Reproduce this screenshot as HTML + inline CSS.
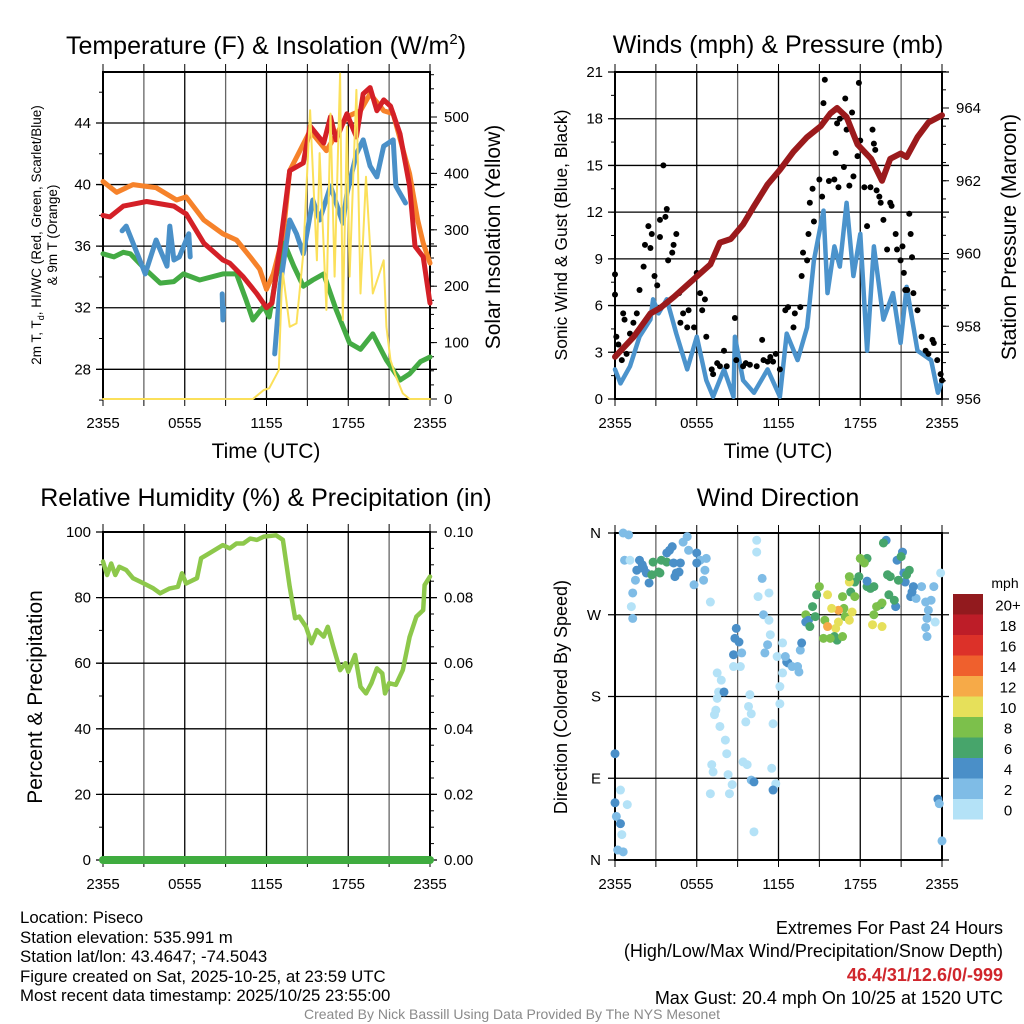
<!DOCTYPE html>
<html><head><meta charset="utf-8"><style>
html,body{margin:0;padding:0;background:#fff;}
svg{display:block;font-family:"Liberation Sans",sans-serif;}
</style></head><body>
<svg id="fig" width="1024" height="1024" viewBox="0 0 1024 1024">
<rect width="1024" height="1024" fill="#fff"/>
<g id="p1"></g>
<g id="p2"></g>
<g id="p3"></g>
<g id="p4"></g>
<g id="txt" font-size="16.8" fill="#000">
<text x="20" y="923">Location: Piseco</text>
<text x="20" y="943">Station elevation: 535.991 m</text>
<text x="20" y="962">Station lat/lon: 43.4647; -74.5043</text>
<text x="20" y="982">Figure created on Sat, 2025-10-25, at 23:59 UTC</text>
<text x="20" y="1001">Most recent data timestamp: 2025/10/25 23:55:00</text>
<text x="1003" y="934" text-anchor="end" font-size="18">Extremes For Past 24 Hours</text>
<text x="1003" y="957" text-anchor="end" font-size="18">(High/Low/Max Wind/Precipitation/Snow Depth)</text>
<text x="1003" y="981" text-anchor="end" font-size="18" font-weight="bold" fill="#d0262c">46.4/31/12.6/0/-999</text>
<text x="1003" y="1004" text-anchor="end" font-size="18">Max Gust: 20.4 mph On 10/25 at 1520 UTC</text>
<text x="512" y="1019" text-anchor="middle" font-size="14" fill="#8a8a8a">Created By Nick Bassill Using Data Provided By The NYS Mesonet</text>
</g>
</svg>
<script>
// ---------- Panel 1 data ----------
const redH=[0,0.5,1.5,3.2,5.2,5.9,6.1,7.4,8.8,9.3,10.3,11.3,12.0,12.4,13.0,13.7,14.7,15.2,16.2,16.7,17.1,17.9,18.6,19.1,19.6,20.1,20.6,21.1,21.8,22.5,22.9,23.5,24];
const redT=[38.0,37.9,38.6,38.9,38.6,38.2,38.1,36.2,35.1,34.9,34.0,32.9,32.0,32.3,36.0,40.9,41.4,43.8,42.7,44.4,42.9,44.6,43.1,45.9,46.3,44.8,45.5,45.1,43.3,39.9,36.0,35.3,32.3];
const orH=[0,1,2.2,3.9,5.4,6.1,7.4,8.8,9.8,10.8,11.5,12.0,12.5,13.2,13.7,15.2,16.4,17.9,18.9,19.6,20.6,21.3,22.5,23.1,23.5,24];
const orT=[40.2,39.5,40.0,39.8,39.0,39.2,37.7,36.8,36.4,35.3,34.5,33.2,34.2,36.6,40.9,43.5,42.2,44.4,44.8,45.9,44.8,44.6,40.7,37.7,36.2,34.9];
const grH=[0,0.8,1.5,2.0,3.1,4.2,5.2,5.9,7.1,8.8,9.8,10.5,11.0,11.8,12.2,12.7,13.3,14.0,14.7,15.4,16.2,17.1,18.1,18.9,19.8,20.8,21.8,22.5,23.3,24];
const grT=[35.5,35.3,35.6,35.5,34.5,33.6,33.7,34.2,33.8,34.2,34.2,32.5,31.2,32.1,31.4,34.0,36.2,34.7,33.4,33.8,34.2,31.9,29.7,29.3,30.3,28.6,27.3,27.7,28.5,28.8];
const blSeg1H=[1.4,1.7,2.7,3.1,3.9,4.7,4.9,5.2,5.6,6.3,6.4];
const blSeg1T=[37.0,37.3,35.1,34.2,36.4,34.7,37.3,35.1,35.3,36.8,35.3];
const blSeg2H=[8.75,8.8,8.85];
const blSeg2T=[32.9,31.2,32.0];
const blSeg3H=[12.6,13.0,13.7,14.2,14.7,15.4,15.9,16.7,17.6,17.9,18.6,19.1,19.6,20.1,20.6,21.3,21.5,22.2];
const blSeg3T=[29.0,33.4,37.7,36.8,35.5,39.0,37.7,39.9,37.5,39.4,42.0,42.9,41.2,40.5,42.5,42.9,39.9,38.8];
const solH=[0,11.0,11.8,12.2,12.9,13.1,13.2,13.7,14.2,14.7,15.2,15.7,15.9,16.4,16.7,17.0,17.4,17.6,17.9,18.1,18.6,18.9,19.3,19.8,20.6,20.8,21.1,21.5,22.0,22.5,24];
const solW=[0,0,16,19,51,187,223,128,134,258,512,246,436,158,506,217,577,140,483,217,548,187,394,187,246,128,69,40,10,0,0];
const tempTicks=[28,32,36,40,44];
const solTicks=[0,100,200,300,400,500];
const timeLabels=["2355","0555","1155","1755","2355"];
// ---------- Panel 2 data ----------
const presH=[0,1.35,2.6,3.3,4.3,5.5,7.0,7.7,8.5,9.4,10.2,11.2,12.1,13.1,14.1,15.1,15.8,16.3,17.0,17.8,18.8,19.2,19.6,20.2,20.96,21.4,22.2,23.0,24];
const presMb=[957.16,957.7,958.35,958.5,958.8,959.2,959.7,960.3,960.4,960.8,961.3,961.9,962.3,962.8,963.2,963.5,963.85,964.0,963.75,963.0,962.6,962.3,962.0,962.6,962.75,962.65,963.2,963.6,963.8];
const windH=[0,0.4,1.1,1.8,2.6,2.8,3.2,3.8,4.5,5.3,6.0,6.7,7.2,8.0,8.7,8.8,9.4,10.2,11.2,12.1,12.6,13.4,14.1,14.6,15.3,15.6,16.1,16.5,17.0,17.5,18.0,18.5,19.0,19.7,20.4,20.96,21.4,22.2,23.2,23.7,24];
const windMph=[1.9,1.0,2.1,4.0,5.1,6.4,5.5,6.4,4.2,1.9,4.0,1.2,0.15,1.9,0.15,4.0,1.2,0.4,1.9,0.15,4.2,2.5,4.6,8.9,12.1,6.8,9.8,8.5,12.6,7.9,10.6,3.1,9.8,5.1,6.8,3.6,7.2,3.1,2.5,0.4,1.2];
const gustH=[0,0,0.1,0.25,0.5,0.6,0.7,0.85,1.1,1.35,1.6,1.8,2.1,2.2,2.45,2.6,2.7,2.9,3.1,3.3,3.3,3.55,3.7,3.8,3.9,4.2,4.3,4.5,4.7,4.8,5.0,5.3,5.4,5.8,6.0,6.25,6.4,6.6,6.7,7.1,7.5,8.0,8.2,8.8,8.9,9.4,9.9,10.4,10.8,10.9,11.4,11.8,12.1,12.5,12.7,13.1,13.2,13.6,13.7,13.8,14.1,14.2,14.3,14.5,14.6,15.0,15.2,15.3,15.4,15.7,16.1,16.2,16.3,16.4,16.5,16.8,16.9,17.0,17.2,17.4,17.5,17.8,17.9,18.0,18.3,18.5,18.75,18.9,19.0,19.1,19.2,19.4,19.5,19.7,19.97,20.2,20.3,20.6,20.7,20.96,21.1,21.2,21.3,21.45,21.6,21.7,21.8,21.9,22.2,22.5,22.8,23.0,23.3,23.4,23.65,23.9,24.0,7.2,7.7,9.6,11.2,11.6];
const gustMph=[8.0,6.7,4.0,3.5,2.5,5.5,5.1,2.9,4.2,4.9,5.5,7.0,8.5,9.9,11.1,9.7,10.6,7.9,7.3,10.4,11.5,15.0,11.7,12.2,8.9,9.4,9.9,10.6,6.8,4.9,5.5,4.6,5.7,4.6,8.1,6.8,5.7,6.4,4.0,1.9,2.3,3.1,2.1,5.2,2.5,2.1,2.2,2.1,3.8,2.5,2.7,2.9,1.9,5.7,5.9,4.6,5.5,5.9,7.9,9.4,8.9,10.6,12.6,13.5,11.4,14.1,13.0,19.0,20.5,14.0,14.1,15.8,17.7,13.6,18.0,14.9,19.3,17.3,13.7,18.4,14.3,15.6,20.3,16.6,13.6,11.1,13.6,17.3,16.4,16.0,13.4,13.0,12.6,11.5,9.6,12.6,12.4,10.6,9.6,8.9,9.8,8.1,7.0,7.0,11.9,10.6,9.1,6.8,5.7,4.0,3.1,2.9,3.8,3.6,2.5,1.6,1.2,1.6,2.1,2.3,2.4,2.4];
const windTicks=[0,3,6,9,12,15,18,21];
const presTicks=[956,958,960,962,964];
// ---------- Panel 3 data ----------
const rhH=[0,0.3,0.6,0.9,1.2,1.7,2.2,3.0,3.7,4.2,4.9,5.5,5.8,6.1,6.9,7.2,7.8,8.8,9.3,9.8,10.3,10.8,11.3,11.8,12.7,13.2,13.7,14.1,14.4,14.9,15.3,15.7,16.2,16.5,16.9,17.4,17.8,18.0,18.5,18.9,19.3,19.7,20.1,20.5,20.7,21.0,21.5,22.0,22.5,23.0,23.5,23.6,24];
const rhPct=[91,86.9,90.4,86.9,89.4,88.4,85.9,84.3,82.8,81.3,82.8,83.3,87.4,84.3,85.9,92,93.5,96,95,96.5,96.5,98,97.6,98.6,99,97.6,83.3,73.7,74.2,71.1,66.1,70.1,68.1,71.1,65,57.9,60,57.4,62.5,52.8,50.8,53.9,58.4,56.9,50.8,53.9,53.4,57.9,68,74.2,76.2,83.8,86.4];
const precipH=[0,24];
const precipIn=[0,0];
const pctTicks=[0,20,40,60,80,100];
const precTicks=["0.00","0.02","0.04","0.06","0.08","0.10"];
// ---------- Panel 4 data ----------
const dirH=[0.6,1.0,0.7,1.1,1.8,2.1,1.6,2.3,2.8,2.7,3.3,3.4,3.8,4.0,3.8,4.5,4.4,4.8,5.0,5.3,5.4,6.0,6.25,6.7,6.6,6.5,5.8,4.2,2.5,1.5,1.3,1.2,1.3,7.0,4.3,4.7,6.0,3.2,2.0,10.4,10.4,10.8,10.5,11.3,10.9,11.3,11.4,11.2,11.0,8.9,8.8,9.1,8.7,9.3,9.2,8.7,7.5,7.8,7.6,8.0,7.5,7.4,7.3,7.7,8.1,8.2,7.1,7.2,8.3,8.6,8.4,7.0,9.9,9.8,10.0,9.6,9.4,9.7,10.0,10.2,10.2,11.5,11.6,11.8,11.6,12.1,12.1,12.3,12.3,11.9,12.6,12.7,13.0,13.4,13.5,13.6,13.7,12.5,0,0,0.4,0.9,0.1,0.4,0.5,0.2,0.6,23.7,23.8,24.0,23.9,23.4,22.8,23.0,23.2,22.9,23.5,22.8,22.9,22.5,21.9,21.7,22.1,21.8,21.3,21.2,21.6,21.4,20.7,21.1,21.0,20.8,20.2,20.0,20.6,20.5,20.1,19.9,19.7,19.5,19.2,19.6,19.0,18.9,19.6,18.5,18.3,18.0,18.5,19.0,18.75,17.9,17.6,17.2,17.2,17.3,17.6,16.7,16.8,16.9,17.4,17.2,16.4,16.4,16.2,15.9,16.1,16.3,15.8,15.3,15.4,15.6,15.0,14.8,15.6,14.5,14.0,14.0,14.2,14.3,14.7,16.7,18.5];
const dirDeg=[360,358,330,330,330,321,319,316,328,314,316,330,338,341,328,316,312,327,350,356,341,338,330,332,319,308,303,345,305,308,294,279,266,284,327,317,327,317,325,352,339,310,290,294,270,264,248,237,228,255,244,240,226,228,213,213,206,198,185,185,178,165,160,147,132,117,105,97,94,83,73,73,182,169,161,152,108,105,88,86,31,101,150,84,77,172,191,206,239,224,218,217,213,213,207,231,239,224,117,63,77,61,48,40,28,11,9,67,62,21,316,301,284,275,286,266,262,256,246,301,301,290,288,295,306,316,319,314,330,339,334,308,312,314,279,286,292,352,349,281,279,283,270,259,257,332,327,332,301,301,299,312,306,306,312,295,290,290,277,268,273,264,275,262,255,277,246,242,244,244,264,257,301,292,292,279,270,262,264,257,268,246,307];
const dirSpd=[3,3,3,1,5,5,5,5,7,7,7,7,5,5,7,5,5,5,3,3,3,5,3,3,3,3,3,5,5,3,3,1,3,1,5,5,5,7,5,1,1,3,1,1,3,1,1,3,3,5,5,5,5,3,1,1,1,1,1,5,1,1,1,1,1,1,1,1,1,1,1,1,1,1,1,1,1,1,3,5,1,1,1,1,5,1,1,1,1,1,5,5,3,3,3,3,5,3,5,5,1,1,3,5,1,3,3,5,3,3,1,3,3,3,3,3,1,3,3,3,5,5,3,5,5,5,7,7,5,5,7,7,7,7,5,7,7,5,7,7,9,9,9,11,11,7,9,9,7,7,7,7,7,11,9,7,9,9,9,9,11,11,13,11,11,11,7,7,9,9,9,13,9,7,11,7,9,5,5,7,7,9,5,5];
const spdColors=["#b4e2f7","#7fbce6","#4a8fc8","#47a56b","#7cc04b","#e6e05a","#f6aa48","#ef602d","#dc3129","#bd1d28","#921a1e"];
const cbLabels=["0","2","4","6","8","10","12","14","16","18","20+"];
const dirLabels=["N","E","S","W","N"];

const NS="http://www.w3.org/2000/svg";
function mk(parent,tag,attrs){const e=document.createElementNS(NS,tag);for(const k in attrs)e.setAttribute(k,attrs[k]);parent.appendChild(e);return e;}
function scale(d0,d1,r0,r1){return v=>r0+(v-d0)*(r1-r0)/(d1-d0);}

function frame(g,x0,x1,y0,y1,hTicksY,minorYL,minorYR){
  const xs=scale(0,24,x0,x1);
  for(let h=3;h<24;h+=3){const l=mk(g,'line',{x1:xs(h),x2:xs(h),y1:y0,y2:y1,stroke:h%6===0?'#000':'#666','stroke-width':1.3});
    }
  hTicksY.forEach(y=>{const l=mk(g,'line',{x1:x0-7,x2:x1+7,y1:y,y2:y,stroke:'#000','stroke-width':1.3});
    });
  for(let h=0;h<=24;h+=3){mk(g,'line',{x1:xs(h),x2:xs(h),y1:y0-8,y2:y0,stroke:'#000','stroke-width':1});mk(g,'line',{x1:xs(h),x2:xs(h),y1:y1,y2:y1+7,stroke:'#000','stroke-width':1});}
  (minorYL||[]).forEach(y=>mk(g,'line',{x1:x0-4,x2:x0,y1:y,y2:y,stroke:'#000','stroke-width':1}));
  (minorYR||[]).forEach(y=>mk(g,'line',{x1:x1,x2:x1+4,y1:y,y2:y,stroke:'#000','stroke-width':1}));
  const b=mk(g,'rect',{x:x0,y:y0,width:x1-x0,height:y1-y0,fill:'none',stroke:'#000','stroke-width':2});
  
  timeLabels.forEach((t,i)=>{const e=mk(g,'text',{x:xs(i*6),y:y1+29,'text-anchor':'middle','font-size':15});e.textContent=t;
    });
  return xs;
}
function txt(g,x,y,s,fs,anchor,rot,name){const e=mk(g,'text',{x:x,y:y,'font-size':fs,'text-anchor':anchor||'middle'});
  if(rot)e.setAttribute('transform','rotate(-90 '+x+' '+y+')');e.textContent=s;
  return e;}
function line(g,hs,vs,xs,ys,color,w,name){const pts=hs.map((h,i)=>xs(h).toFixed(1)+','+ys(vs[i]).toFixed(1)).join(' ');
  const p=mk(g,'polyline',{points:pts,fill:'none',stroke:color,'stroke-width':w,'stroke-linejoin':'round','stroke-linecap':'round'});
  return p;}

// ---------- Panel 1 ----------
(function(){
  const g=document.getElementById('p1');const X0=103,X1=430,Y0=72,Y1=399;
  const ty=scale(28,44,369.3,123),sy=scale(0,500,399,117);
  const minL=[];for(let v=26;v<=46;v+=2)minL.push(ty(v));
  const minR=[];for(let v=0;v<=575;v+=25)minR.push(sy(v));
  const xs=frame(g,X0,X1,Y0,Y1,tempTicks.map(ty),minL,minR);
  tempTicks.forEach(v=>{txt(g,X0-12,ty(v)+5,String(v),15,'end',false,'left-tick-label');});
  solTicks.forEach(v=>{mk(g,'line',{x1:X1,x2:X1+7,y1:sy(v),y2:sy(v),stroke:'#000'});txt(g,X1+14,sy(v)+5,String(v),15,'start',false,'right-tick-label');});
  line(g,orH,orT,xs,ty,'#f6822a',5,'orange-9m-temp-line');
  line(g,grH,grT,xs,ty,'#44ab44',5,'green-dewpoint-line');
  line(g,redH,redT,xs,ty,'#d42027',5,'red-2m-temp-line');
  line(g,blSeg1H,blSeg1T,xs,ty,'#4a90c8',5,'blue-windchill-line');
  line(g,blSeg2H,blSeg2T,xs,ty,'#4a90c8',5,'blue-windchill-line');
  line(g,blSeg3H,blSeg3T,xs,ty,'#4a90c8',5,'blue-windchill-line');
  line(g,solH,solW,xs,sy,'#fbe05a',2,'yellow-insolation-line');
  const t=txt(g,266,54,'',25,'middle',false,'panel-title');t.innerHTML='Temperature (F) &amp; Insolation (W/m<tspan dy="-10" font-size="15">2</tspan><tspan dy="10">)</tspan>';
  txt(g,266,458,'Time (UTC)',21,'middle',false,'x-axis-title');
  txt(g,41,235,'',13.5,'middle',true,'left-axis-title-line1').innerHTML='2m T, T<tspan font-size="9" dy="3">d</tspan><tspan dy="-3">, HI/WC (Red, Green, Scarlet/Blue)</tspan>';
  txt(g,57,235,'& 9m T (Orange)',13.5,'middle',true,'left-axis-title-line2');
  txt(g,500,237,'Solar Insolation (Yellow)',21,'middle',true,'right-axis-title');
})();
// ---------- Panel 2 ----------
(function(){
  const g=document.getElementById('p2');const X0=615,X1=942,Y0=72,Y1=399;
  const wy=scale(0,21,399,72),py=scale(956,964,399,108);
  const minL=[];for(let v=0;v<=21;v+=1.5)minL.push(wy(v));
  const minR=[];for(let v=956;v<=965;v+=0.5)minR.push(py(v));
  const xs=frame(g,X0,X1,Y0,Y1,windTicks.map(wy),minL,minR);
  windTicks.forEach(v=>txt(g,X0-12,wy(v)+5,String(v),15,'end',false,'left-tick-label'));
  presTicks.forEach(v=>{mk(g,'line',{x1:X1,x2:X1+7,y1:py(v),y2:py(v),stroke:'#000'});txt(g,X1+14,py(v)+5,String(v),15,'start',false,'right-tick-label');});
  line(g,windH,windMph,xs,wy,'#4b93cc',4.5,'sonic-wind-line');
  gustH.forEach((h,i)=>{const c=mk(g,'circle',{cx:xs(h),cy:wy(gustMph[i]),r:3,fill:'#000'});
    });
  line(g,presH,presMb,xs,py,'#9b1a1c',6,'pressure-line');
  txt(g,778,53,'Winds (mph) & Pressure (mb)',25,'middle',false,'panel-title');
  txt(g,778,458,'Time (UTC)',21,'middle',false,'x-axis-title');
  txt(g,567,235,'Sonic Wind & Gust (Blue, Black)',17.5,'middle',true,'left-axis-title');
  txt(g,1016,237,'Station Pressure (Maroon)',21,'middle',true,'right-axis-title');
})();
// ---------- Panel 3 ----------
(function(){
  const g=document.getElementById('p3');const X0=103,X1=430,Y0=532,Y1=860;
  const ry=scale(0,100,860,532),qy=scale(0,0.1,860,532);
  const minR=[];for(let v=0;v<=100;v+=5)minR.push(ry(v));
  const minL=[];for(let v=0;v<=100;v+=10)minL.push(ry(v));
  const xs=frame(g,X0,X1,Y0,Y1,pctTicks.map(ry),minL,minR);
  pctTicks.forEach(v=>txt(g,X0-12,ry(v)+5,String(v),15,'end',false,'left-tick-label'));
  precTicks.forEach(v=>{mk(g,'line',{x1:X1,x2:X1+7,y1:qy(+v),y2:qy(+v),stroke:'#000'});txt(g,X1+14,qy(+v)+5,v,15,'start',false,'right-tick-label');});
  line(g,rhH,rhPct,xs,ry,'#8dc84b',4.5,'relative-humidity-line');
  line(g,precipH,precipIn,xs,qy,'#3fac3f',8,'precipitation-line');
  txt(g,266,506,'Relative Humidity (%) & Precipitation (in)',25,'middle',false,'panel-title');
  txt(g,42,697,'Percent & Precipitation',21,'middle',true,'left-axis-title');
})();
// ---------- Panel 4 ----------
(function(){
  const g=document.getElementById('p4');const X0=615,X1=942,Y0=533,Y1=860;
  const dy=scale(0,360,860,533);
  const xs=frame(g,X0,X1,Y0,Y1,[0,90,180,270,360].map(dy));
  dirLabels.forEach((s,i)=>txt(g,X0-14,dy(i*90)+5,s,15,'end',false,'direction-tick-label'));
  dirH.forEach((h,i)=>{const ci=Math.min(10,Math.floor(dirSpd[i]/2));
    const c=mk(g,'circle',{cx:xs(h),cy:dy(dirDeg[i]),r:4.5,fill:spdColors[ci]});
    });
  txt(g,778,506,'Wind Direction',25,'middle',false,'panel-title');
  txt(g,567,697,'Direction (Colored By Speed)',18,'middle',true,'left-axis-title');
  const bh=20.5,by0=594;
  for(let i=0;i<11;i++){const ri=10-i;const r=mk(g,'rect',{x:953,y:by0+i*bh,width:30,height:bh,fill:spdColors[ri]});
    
    txt(g,1008,by0+i*bh+bh/2+6,cbLabels[ri],15,'middle',false,'colorbar-label');}
  txt(g,1005,588,'mph',14,'middle',false,'colorbar-title');
})();
</script>
</body></html>
